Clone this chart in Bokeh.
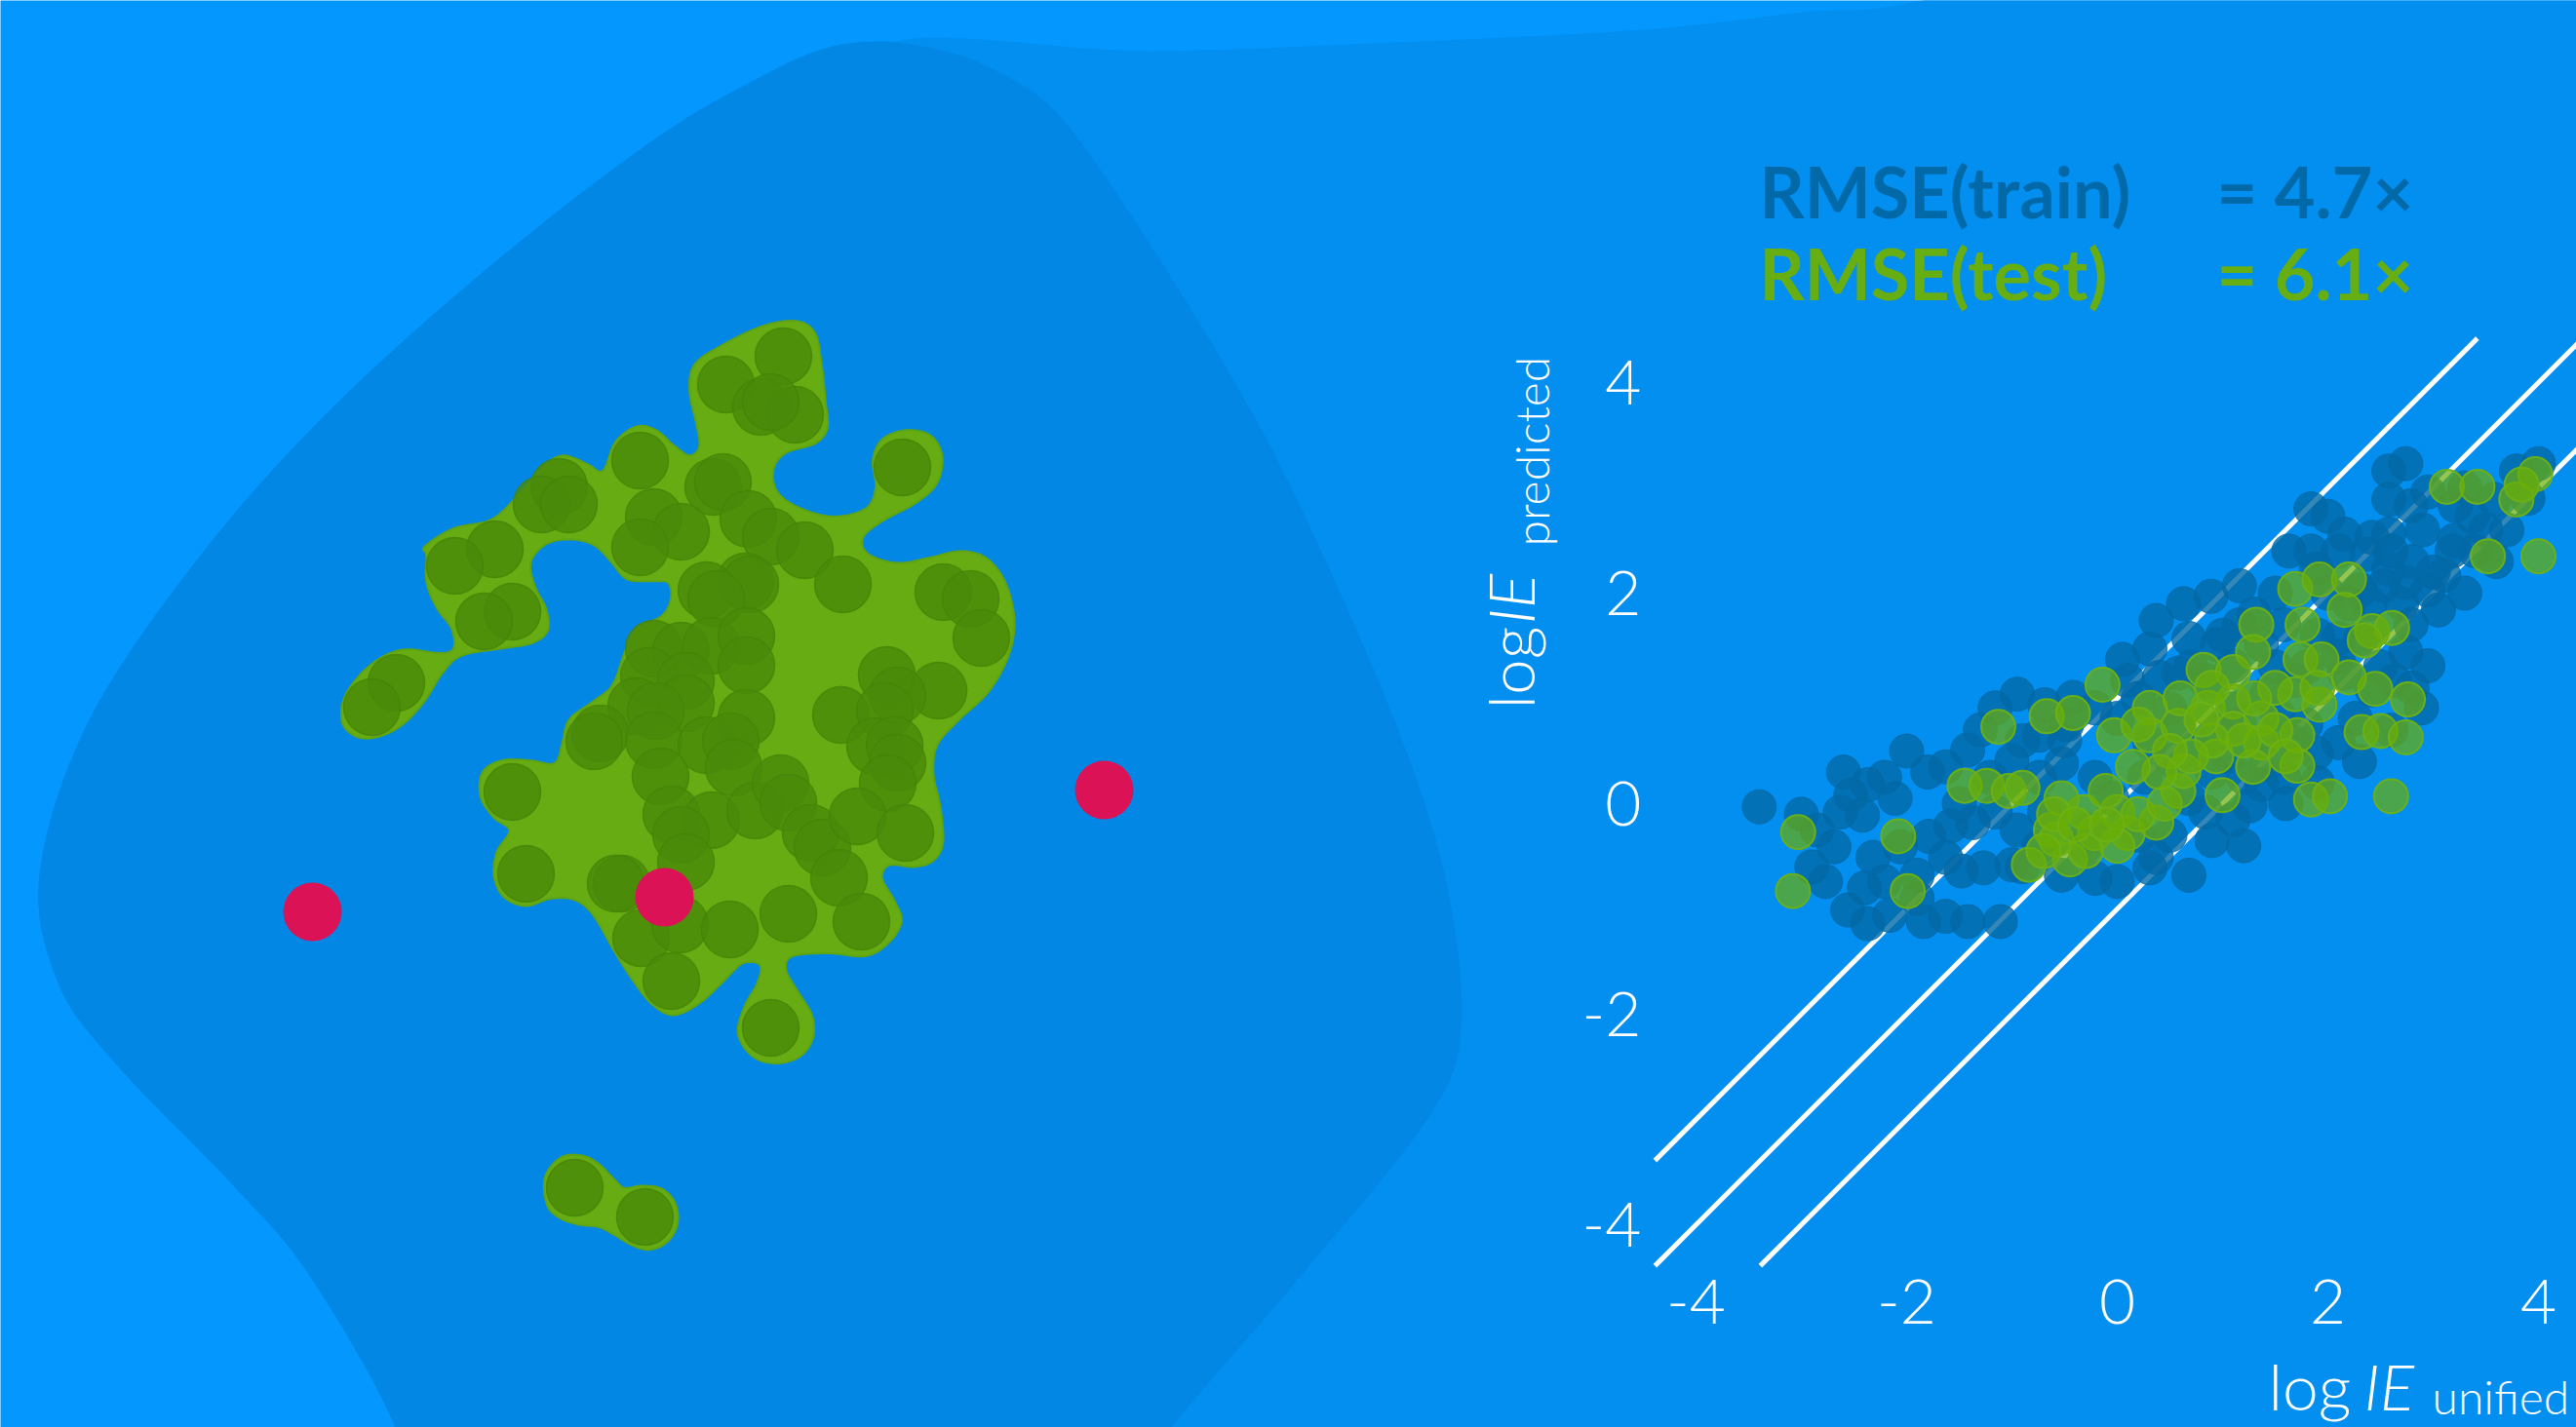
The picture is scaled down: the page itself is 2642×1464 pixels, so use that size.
import numpy as np
from math import pi
from bokeh.plotting import figure
from bokeh.models import Range1d, LinearAxis, Label, FixedTicker
from bokeh.embed import file_html
from bokeh.resources import INLINE

W, H = 2642, 1464

# ---------------- right panel data: predicted vs unified log IE ----------------
ticks = [-4, -2, 0, 2, 4]
band_offsets = [-1, 0, 1]
train_x = [-3.40, -2.77, -2.56, -2.37, -2.16, -1.84, -1.63, -1.42, -1.11,
           -2.21, -2.37, -2.11, -2.53, -2.63, -2.42, -2.85, -2.69, -2.32, -2.06, -1.79, -1.63, -1.48, -1.27, -1.00,
           -1.58, -1.37, -1.16, -0.95, -0.74, -0.53, -0.21, 0.00, 0.31, 0.68,
           -1.63, -1.42, -1.21, -1.00, -0.74, -0.53, -0.21, -0.05, 0.26, 0.52, 0.73, 0.95, 1.16,
           0.68, 0.84, 1.10, 1.26, 1.37, 1.58, 1.42,
           -1.16, -0.95, -0.69, -0.42, -0.21, 0.00,
           0.05, 0.31, 0.37, 0.63, 0.89, 1.16, 1.16, 0.95, 0.68, 0.58, 0.84, 1.10, 1.37, 1.58,
           1.84, 2.00, 2.16, 2.42, 2.58, 2.74, 2.58, 2.79, 2.95, 3.21, 3.37, 3.58, 3.79, 4.00,
           1.84, 2.10, 2.37, 2.58, 2.74, 2.95, 3.05, 2.79, 2.95, 2.74, 2.63, 2.89, 2.53, 2.31, 1.89, 1.63, 3.18, 3.10,
           2.26, 2.10, 1.89, 1.68,
           2.58, 2.31, 2.10, 1.42, 1.68, 2.16, 2.42, 1.52, 1.79, 1.37, 1.05,
           0.31, 0.58, 0.10, -0.48, -0.74, -0.27, -0.69, -1.90, -2.21, 0.37,
           2.90, 3.20, 3.40, 3.60, 3.00, 3.30, 2.70, 3.50, 3.70, 2.40, 2.20, 2.00, 3.90, 3.30, 2.60, 2.80,
           1.00, 1.30, 1.50, 0.70, 1.90, 2.10, 2.50, 2.80, 1.50, 1.80, 0.40, 0.20, 0.50, 1.10, 2.60, 2.30,
           1.90, 1.60, 1.20, 0.90,
           -0.50, -0.90, -1.30, -1.80, -2.00, -1.50, -0.30, 0.20, 0.50, -0.90, -1.90, -2.40, -2.90, -2.60,
           -3.00, 0.90, 1.20]
train_y = [-0.03, -0.74, -1.01, -1.14, -1.06, -1.12, -1.07, -1.12, -1.12,
           0.25, 0.18, 0.05, 0.08, -0.08, -0.11, -0.25, -0.41, -0.51, -0.41, -0.31, -0.51, -0.64, -0.61, -0.58,
           -0.21, -0.18, -0.08, -0.25, -0.41, -0.68, -0.71, -0.74, -0.61, -0.68,
           0.35, 0.51, 0.25, 0.41, 0.25, 0.38, 0.25, 0.05, 0.25, 0.41, 0.51, 0.68, 0.75,
           0.05, -0.08, -0.15, -0.02, 0.18, 0.25, 0.38,
           0.91, 1.04, 0.94, 1.01, 0.91, 0.81,
           1.37, 1.47, 1.74, 1.90, 1.97, 2.07, 1.70, 1.51, 1.57, 1.24, 1.17, 1.31, 1.51, 1.70,
           2.80, 2.73, 2.56, 2.53, 3.16, 3.23, 2.89, 2.83, 2.96, 2.83, 2.73, 2.89, 3.16, 3.23,
           2.40, 2.40, 2.37, 2.23, 2.10, 2.03, 1.84, 1.70, 1.31, 1.44, 1.17, 0.91, 2.07, 2.03, 2.23, 2.40, 2.40, 2.17,
           0.81, 0.58, 0.48, 0.58,
           2.56, 1.57, 1.57, 1.04, 1.17, 1.24, 1.08, 0.85, 0.75, 0.58, 0.45,
           0.58, 0.75, 1.17, 0.75, 0.65, -0.25, -0.08, -0.68, -0.74, -0.51,
           2.60, 2.50, 2.40, 2.30, 2.20, 2.00, 1.90, 2.60, 2.60, 1.90, 1.90, 2.00, 2.90, 3.00, 2.40, 2.30,
           1.60, 1.80, 2.00, 1.30, 1.60, 1.40, 1.30, 1.10, 1.30, 1.30, 1.20, 1.00, 0.90, 0.90, 0.70, 0.40,
           0.20, 0.00, 0.25, 0.30,
           0.60, 0.60, 0.70, 0.30, 0.50, 0.00, -0.40, -0.30, -0.30, -0.60, -0.90, -0.80, -0.60, 0.30,
           -0.10, -0.35, -0.40]
test_x = [-3.03, -3.08, -2.08, -1.99, -1.13, -0.67, -0.42, -0.14, -1.45, -1.24,
          -1.03, -0.90, -0.84, -0.45, -0.63, -0.32, 0.00, -0.53, -0.11, 0.10,
          0.37, 0.58, 0.63, 1.00, -0.03, 0.31, 0.31, 0.58, 0.82, 0.86,
          1.10, 1.10, 1.37, 1.37, 1.32, 1.29, 1.69, 1.92, 2.20, 1.76,
          2.16, 2.42, 2.61, 1.74, 1.94, 1.69, 1.92, 1.29, 1.71, 1.71,
          2.32, 2.45, 2.50, 2.74, 2.76, 1.84, 2.02, 2.60, 3.13, 3.42,
          3.79, 3.97, 3.52, 4.00, 3.84, -0.58, -0.21, 0.94,
          0.00, 0.20, -0.30, 0.45, 0.60, 0.90, 1.10, 1.50, 0.70, 0.20,
          0.50, 0.80, 1.20, 1.50, 0.90, 1.30, 0.40, 1.60, -0.60, -0.40, -0.10, -0.70, 0.15, 1.90,
          2.20, 2.35]
test_y = [-0.27, -0.83, -0.31, -0.83, 0.73, 0.83, 0.86, 1.13, 0.17, 0.17,
          0.12, 0.15, -0.58, -0.53, -0.25, -0.08, -0.08, 0.05, 0.12, -0.28,
          -0.18, 0.12, 0.31, 0.08, 0.65, 0.91, 0.65, 0.74, 1.27, 0.91,
          0.97, 0.71, 0.81, 0.58, 1.70, 1.44, 2.04, 2.13, 2.13, 1.70,
          1.84, 1.64, 1.67, 1.37, 1.37, 1.04, 0.94, 0.35, 0.36, 0.65,
          0.68, 1.09, 0.69, 0.63, 0.99, 0.04, 0.07, 0.07, 3.01, 3.01,
          2.89, 3.13, 2.35, 2.35, 3.03, -0.34, -0.28, 0.45,
          -0.40, -0.10, -0.45, 0.00, 1.00, 0.60, 1.25, 1.10, 0.45, 0.75,
          0.50, 0.80, 0.60, 0.70, 1.10, 1.00, 0.30, 0.45, -0.10, -0.20, -0.20, -0.45, 0.35, 1.10,
          1.20, 1.55]
rmse_names = ["RMSE(train)", "RMSE(test)"]
rmse_values = ["= 4.7\u00d7", "= 6.1\u00d7"]

# ---------------- left panel data: chemical-space map (map units) ----------------
map_x = [803, 744, 780, 815, 790, 656, 731, 741, 573, 555, 583, 507, 466, 670, 698, 656,
         767, 790, 825, 764, 724, 769, 734, 864, 925, 967, 995, 1006, 525, 496, 406, 381,
         670, 698, 729, 765, 765, 665, 703, 652, 703, 672, 765, 615, 609, 670, 724, 749, 752,
         909, 962, 862, 920, 907, 897, 917, 920, 910, 677, 688, 729, 698, 774, 800, 808, 831,
         843, 879, 928, 860, 883, 703, 525, 539, 637, 631, 657, 697, 748, 808, 688, 790, 589, 661]
map_y = [365, 394, 417, 425, 412, 472, 499, 494, 499, 517, 517, 563, 580, 530, 545, 561,
         532, 550, 564, 596, 605, 599, 614, 599, 479, 607, 614, 654, 627, 637, 700, 725,
         665, 667, 662, 652, 682, 693, 698, 724, 721, 729, 736, 752, 760, 759, 764, 760, 787,
         692, 708, 733, 713, 729, 765, 764, 782, 803, 796, 835, 841, 856, 831, 803, 823, 854,
         869, 837, 854, 900, 945, 884, 812, 896, 906, 906, 962, 948, 953, 937, 1006, 1054, 1218, 1248]
anchor_x = [320, 681, 1132]
anchor_y = [935, 920, 810]

# hull of the map region (traced outline, in map units before scaling)
hull_main = [(440, 600), (470, 580), (510, 570), (540, 540), (565, 510), (585, 500), (610, 510), (625, 517),
             (638, 485), (660, 468), (680, 472), (700, 490), (715, 500), (725, 490), (722, 465), (715, 430),
             (720, 400), (750, 378), (790, 358), (825, 352), (845, 365), (852, 400), (856, 440), (858, 470),
             (845, 487), (815, 497), (802, 515), (806, 540), (830, 558), (865, 567), (898, 558), (908, 535),
             (905, 505), (915, 482), (940, 472), (965, 478), (977, 500), (972, 530), (950, 552), (915, 572),
             (895, 590), (900, 608), (930, 618), (965, 612), (995, 605), (1022, 612), (1042, 638), (1052, 680),
             (1046, 720), (1025, 760), (995, 790), (972, 818), (968, 850), (975, 885), (978, 925), (968, 945),
             (948, 952), (922, 950), (915, 965), (928, 990), (935, 1012), (922, 1035), (898, 1050), (860, 1047),
             (822, 1050), (815, 1065), (828, 1090), (842, 1115), (843, 1140), (830, 1160), (805, 1168),
             (780, 1160), (765, 1135), (772, 1105), (785, 1080), (788, 1060), (770, 1058), (748, 1080),
             (725, 1102), (698, 1115), (675, 1102), (655, 1075), (637, 1045), (615, 1005), (595, 988),
             (570, 987), (545, 995), (522, 985), (512, 962), (515, 935), (528, 912), (512, 898), (498, 875),
             (500, 848), (520, 835), (550, 835), (575, 838), (583, 815), (590, 790), (615, 770), (635, 752),
             (648, 715), (660, 690), (685, 677), (695, 660), (693, 640), (675, 638), (650, 636), (632, 615),
             (615, 598), (590, 592), (565, 598), (550, 618), (555, 645), (566, 668), (568, 692), (552, 706),
             (520, 712), (478, 720), (458, 740), (440, 770), (418, 795), (395, 808), (372, 810), (355, 795),
             (356, 768), (372, 742), (395, 722), (420, 713), (455, 717), (470, 712), (468, 690), (453, 668),
             (442, 640), (442, 610)]
hull_pair = [(172, 200), (185, 150), (230, 108), (290, 105), (340, 130), (390, 180), (420, 205), (470, 198),
             (530, 205), (570, 240), (585, 290), (575, 340), (540, 380), (490, 395), (440, 380), (390, 350),
             (340, 325), (280, 318), (225, 300), (185, 265)]

# ---------------- colours ----------------
BG_LIGHT = "#0497FE"
BG_MED = "#038FF0"
BG_DARK = "#0387E4"
TRAIN_C = "#0369A6"
TEST_C = "#6AAE06"
TEST_EDGE = "#6DB116"
TRAIN_TXT = "#0269A9"
TEST_TXT = "#67AE12"
BLOB_C = "#66AC12"
DOT_C = "#4A8A0A"
RED_C = "#DC1256"
FONT = "Lato"
THIN = "Lato Light"

# scale of the right panel: 108 px per unit, origin at (2171, 824)
S, OX, OY = 108.0, 2171.0, 824.0
BASE_K = 0.38   # baseline correction (fraction of font size)


def smooth_closed(pts, n=14):
    P = np.array(pts, float)
    N = len(P)
    out = []
    for i in range(N):
        p0, p1, p2, p3 = P[i - 1], P[i], P[(i + 1) % N], P[(i + 2) % N]
        for t in np.linspace(0, 1, n, endpoint=False):
            t2, t3 = t * t, t * t * t
            out.append(0.5 * (2 * p1 + (-p0 + p2) * t + (2 * p0 - 5 * p1 + 4 * p2 - p3) * t2
                              + (-p0 + 3 * p1 - 3 * p2 + p3) * t3))
    return np.array(out)


p = figure(width=W, height=H, output_backend="svg", toolbar_location=None,
           x_range=Range1d(-OX / S, (W - OX) / S), y_range=Range1d(-(H - OY) / S, OY / S),
           x_axis_location=None, y_axis_location=None, min_border=0,
           background_fill_color=BG_LIGHT, border_fill_color=BG_LIGHT, outline_line_color=None)
p.grid.visible = False
p.extra_x_ranges = {"px": Range1d(0, W)}
p.extra_y_ranges = {"px": Range1d(H, 0)}
PX = dict(x_range_name="px", y_range_name="px")

# background shapes
med_pts = smooth_closed([(905, 48), (1179, 52), (1432, 43), (1685, 30), (1850, 12), (1971, 0),
                         (2300, -80), (2900, -200), (2900, 1700), (1150, 1700), (1080, 900), (1000, 200)])
p.patch(med_pts[:, 0], med_pts[:, 1], fill_color=BG_MED, line_color=None, **PX)
dark_pts = smooth_closed([(905, 42), (960, 50), (1011, 67), (1078, 110), (1146, 200), (1255, 373),
                          (1335, 523), (1433, 747), (1483, 906), (1498, 1055), (1463, 1148),
                          (1335, 1307), (1201, 1464), (1120, 1580), (430, 1580), (405, 1464),
                          (316, 1307), (237, 1214), (119, 1092), (59, 1008), (40, 896), (90, 740),
                          (202, 573), (337, 421), (505, 270), (674, 140), (792, 72), (850, 48)])
p.patch(dark_pts[:, 0], dark_pts[:, 1], fill_color=BG_DARK, line_color=None, **PX)

# map hull (blob)
hm = smooth_closed(hull_main, n=5) * np.array([1 / 1.0116, 1 / 1.071])
hp = smooth_closed(hull_pair, n=5) / 3.0 + np.array([500.0, 1150.0])
p.patches([hm[:, 0].tolist(), hp[:, 0].tolist()], [hm[:, 1].tolist(), hp[:, 1].tolist()],
          fill_color=BLOB_C, line_color="#5FA411", line_width=2, **PX)
p.scatter(map_x, map_y, size=58, fill_color=DOT_C, fill_alpha=0.8,
          line_color="#468308", line_alpha=0.8, line_width=1.5, **PX)
p.scatter(anchor_x, anchor_y, size=60, fill_color=RED_C, line_color=None, **PX)

# right panel: parity lines, clipped to the plot box
lo, hi = -4.39, 4.42
x0 = [max(lo, lo - c) for c in band_offsets]
x1 = [min(hi, hi - c) for c in band_offsets]
y0 = [x + c for x, c in zip(x0, band_offsets)]
y1 = [x + c for x, c in zip(x1, band_offsets)]
p.segment(x0=x0, y0=y0, x1=x1, y1=y1, line_color="white", line_width=5)

p.scatter(train_x, train_y, size=35, fill_color=TRAIN_C, fill_alpha=0.8,
          line_color=TRAIN_C, line_alpha=0.85, line_width=1)
p.scatter(test_x, test_y, size=35, fill_color=TEST_C, fill_alpha=0.7,
          line_color=TEST_EDGE, line_alpha=0.95, line_width=2)

# axes at fixed locations inside the canvas
for loc, side, fl in (("below", "x", -4.38), ("left", "y", -4.39)):
    ax = LinearAxis(fixed_location=fl, ticker=FixedTicker(ticks=ticks))
    ax.major_label_overrides = {t: str(t) for t in ticks}
    ax.axis_line_color = None
    ax.major_tick_line_color = None
    ax.minor_tick_line_color = None
    ax.major_tick_in = 0
    ax.major_tick_out = 0
    ax.major_label_text_color = "white"
    ax.major_label_text_font = THIN
    ax.major_label_text_font_size = "64px"
    ax.major_label_standoff = 14 if side == "y" else 15
    p.add_layout(ax, loc)


# text pieces (x, y = baseline start)
def lab(x, y, text, size, style="normal", angle=0.0, color="white", font=THIN):
    fs = float(size.replace("px", ""))
    if angle == 0.0:
        y = y - BASE_K * fs
    else:
        x = x - BASE_K * fs
    p.add_layout(Label(x=x, y=y, text=text, text_font=font, text_font_size=size,
                       text_font_style=style, text_color=color, angle=angle,
                       text_baseline="alphabetic", text_align="left", **PX))


lab(2326, 1446, "log", "66px")
lab(2424, 1446, "IE", "66px", "italic")
lab(2494, 1450, "unified", "48px")
lab(1573, 727, "log", "66px", angle=pi / 2)
lab(1573, 640, "IE", "66px", "italic", angle=pi / 2)
lab(1588, 560, "predicted", "48px", angle=pi / 2)

# RMSE annotations
for name, val, yb, col in zip(rmse_names, rmse_values, [223, 307], [TRAIN_TXT, TEST_TXT]):
    lab(1804, yb, name, "72px", "bold", color=col, font=FONT)
    lab(2273, yb, val, "72px", "bold", color=col, font=FONT)

open("out.html", "w").write(file_html(p, INLINE))
